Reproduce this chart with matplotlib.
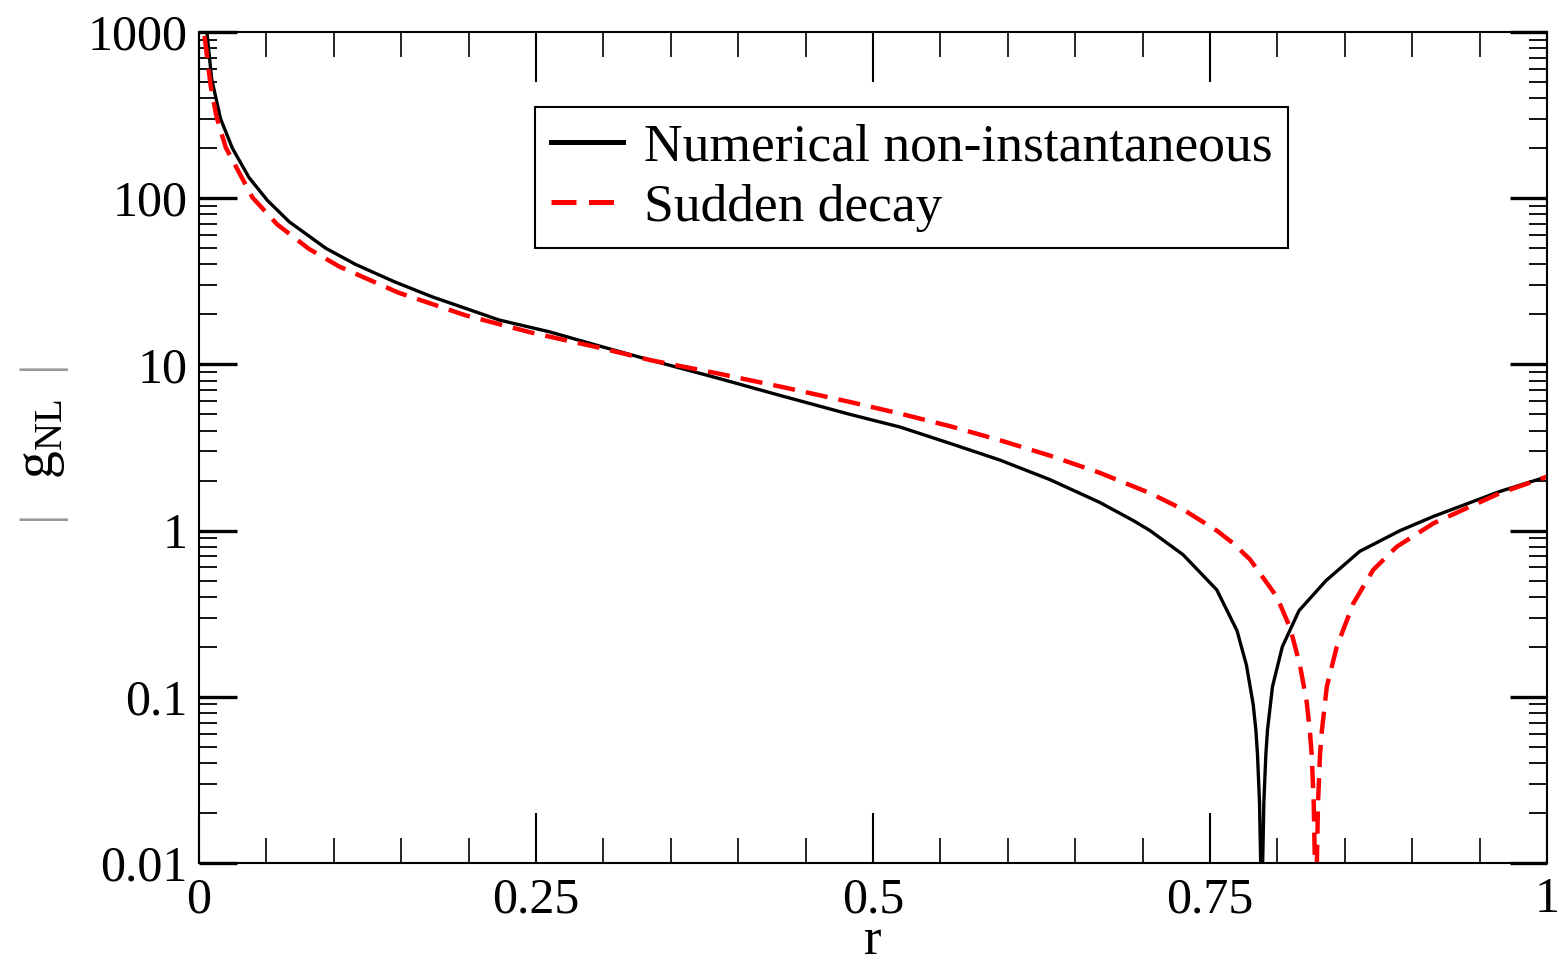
import numpy as np
import matplotlib.pyplot as plt
from matplotlib.ticker import FixedLocator, LogLocator, NullFormatter

plt.rcParams['font.family'] = ['Liberation Serif', 'DejaVu Serif']
plt.rcParams['mathtext.fontset'] = 'custom'
plt.rcParams['mathtext.rm'] = 'Liberation Serif'

# values
r_num = [0.004, 0.0058, 0.0094, 0.016, 0.0247, 0.0371, 0.0507, 0.067, 0.094,
         0.116, 0.145, 0.173, 0.2226, 0.26, 0.297, 0.335, 0.384, 0.433,
         0.483, 0.52, 0.557, 0.594, 0.631, 0.668, 0.693, 0.7055, 0.730, 0.755,
         0.770, 0.777, 0.782, 0.784, 0.7852, 0.7867, 0.7877, 0.7883, 0.7889,
         0.7899, 0.7914, 0.7926, 0.7963, 0.8036, 0.816, 0.836, 0.861, 0.891,
         0.916, 0.965, 1.0]
g_num = [1500, 1000, 520, 300, 200, 133, 97, 72, 50,
         40, 31.4, 25.5, 18.5, 15.7, 12.9, 10.6, 8.3, 6.44,
         5.0, 4.2, 3.35, 2.66, 2.03, 1.48, 1.15, 1.0, 0.716, 0.44,
         0.25, 0.155, 0.09, 0.063, 0.045, 0.023, 0.0088, 0.001, 0.0088,
         0.023, 0.045, 0.063, 0.115, 0.2, 0.33, 0.50, 0.75, 1.0,
         1.22, 1.72, 2.11]

r_sud = [0.0025, 0.0037, 0.0087, 0.0129, 0.0198, 0.0396, 0.058, 0.0816, 0.104,
         0.148, 0.198, 0.247, 0.297, 0.335, 0.384, 0.433, 0.483, 0.52, 0.557,
         0.594, 0.631, 0.668, 0.7055, 0.730, 0.755, 0.767, 0.7797, 0.7995,
         0.8094, 0.8167, 0.8217, 0.824, 0.8254, 0.8269, 0.8279, 0.8285,
         0.8291, 0.8301, 0.8316, 0.8329, 0.8366, 0.844, 0.8563, 0.871,
         0.8885, 0.916, 0.965, 1.0]
g_sud = [1500, 1000, 470, 310, 202, 101, 69.5, 49.5, 38.8,
         27, 19.7, 15.5, 12.6, 10.6, 8.85, 7.3, 5.94, 5.06, 4.25,
         3.5, 2.83, 2.23, 1.68, 1.34, 1.0, 0.84, 0.67, 0.40,
         0.26, 0.155, 0.093, 0.063, 0.045, 0.023, 0.0088, 0.001,
         0.0088, 0.023, 0.045, 0.062, 0.115, 0.2, 0.365, 0.58,
         0.80, 1.11, 1.68, 2.11]

x_ticks = [0, 0.25, 0.5, 0.75, 1]
x_labels = ['0', '0.25', '0.5', '0.75', '1']
y_ticks = [0.01, 0.1, 1, 10, 100, 1000]
y_labels = ['0.01', '0.1', '1', '10', '100', '1000']

fig = plt.figure(figsize=(15.66, 9.66), dpi=100)
ax = fig.add_axes([0.1271, 0.1066, 0.8608, 0.8603])

ax.plot(r_num, g_num, color='black', lw=2.4, label='Numerical non-instantaneous')
ax.plot(r_sud, g_sud, color='red', lw=3.2, dashes=(5, 2.5),
        label='Sudden decay')

ax.set_yscale('log')
ax.set_xlim(0, 1)
ax.set_ylim(0.01, 1000)

ax.xaxis.set_major_locator(FixedLocator(x_ticks))
ax.set_xticklabels(x_labels)
ax.xaxis.set_minor_locator(FixedLocator(np.arange(0, 1.0001, 0.05)))
ax.yaxis.set_major_locator(FixedLocator(y_ticks))
ax.set_yticklabels(y_labels)
ax.yaxis.set_minor_locator(LogLocator(base=10, subs=np.arange(2, 10)))
ax.yaxis.set_minor_formatter(NullFormatter())

ax.tick_params(axis='both', which='both', direction='in', top=True, right=True,
               labelsize=36, colors='black')
ax.tick_params(axis='x', which='major', length=36, width=1.5, pad=10)
ax.tick_params(axis='x', which='minor', length=18, width=1.2)
ax.tick_params(axis='y', which='major', length=27, width=2.4, pad=8)
ax.tick_params(axis='y', which='minor', length=13, width=1.3)
for s in ax.spines.values():
    s.set_linewidth(1.5)

ax.set_xlabel('r', fontsize=38, va='bottom')
ax.xaxis.set_label_coords(0.5, -0.1225)

# y label: gray bars around g_NL
fig.text(0.026, 0.545, 'g$_{\\rm NL}$', rotation=90, fontsize=40,
         ha='center', va='center', color='black')
fig.text(0.026, 0.622, '|', rotation=90, fontsize=38, ha='center',
         va='center', color='#999999')
fig.text(0.026, 0.467, '|', rotation=90, fontsize=38, ha='center',
         va='center', color='#999999')

leg = ax.legend(loc='upper left', bbox_to_anchor=(535 / 1566, 1 - 107 / 966),
                bbox_transform=fig.transFigure, fontsize=38.5, frameon=True,
                fancybox=False, edgecolor='black', framealpha=1,
                handlelength=1.35, handletextpad=0.38, labelspacing=0.22,
                borderpad=0.3, borderaxespad=0)
leg.get_frame().set_linewidth(1.5)
for h in leg.get_lines():
    h.set_linewidth(3.6)

fig.savefig('out.png', dpi=100)
